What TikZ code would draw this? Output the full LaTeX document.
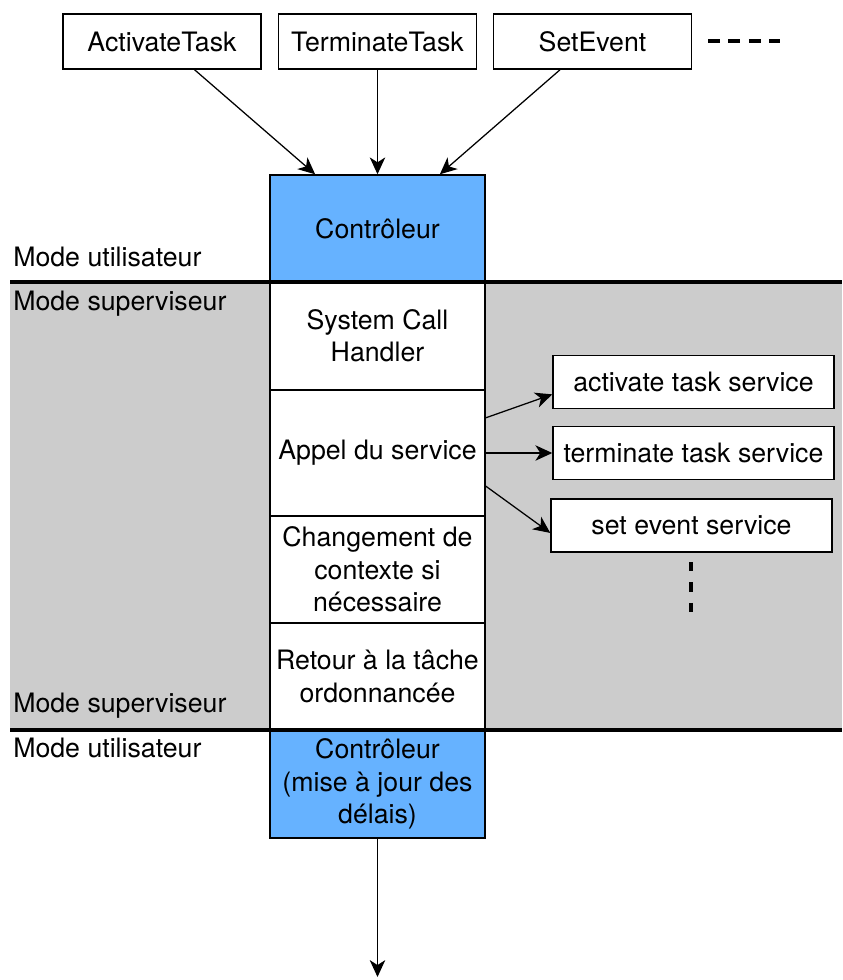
\documentclass[tikz,border=0pt]{standalone}
\usepackage{fontspec}
\setmainfont{TeX Gyre Heros}
\usetikzlibrary{arrows.meta}
\definecolor{ctrlblue}{rgb}{0.4,0.7,1}
\definecolor{supgray}{rgb}{0.8,0.8,0.8}
\tikzset{
  box/.style={draw, line width=1pt, fill=white, inner sep=0pt, align=center},
  ctrlbox/.style={box, fill=ctrlblue},
  colbox/.style={box, minimum width=5.375cm},
  callbox/.style={box, minimum width=4.95cm, minimum height=1.375cm},
  srvbox/.style={box, minimum width=7.025cm, minimum height=1.33cm},
  flow/.style={line width=0.9pt, -{Stealth[length=12pt,width=11pt,inset=3.5pt]}},
  modesep/.style={line width=2.2pt},
  modelabel/.style={anchor=base west, inner sep=0pt},
}

\begin{document}
\begin{tikzpicture}[x=0.025cm, y=-0.025cm, font=\fontsize{19}{23}\selectfont]
\useasboundingbox (0,0) rectangle (842,980);
\fill[supgray] (10,282) rectangle (842,730);
% appels systeme
\node[callbox] (act) at (162,41.5) {ActivateTask};
\node[callbox] (term) at (377.5,41.5) {TerminateTask};
\node[callbox] (setev) at (592.5,41.5) {SetEvent};
\draw[line width=2.8pt, dash pattern=on 8.5pt off 6pt] (708,41) -- (780,41);
% colonne centrale
\node[ctrlbox, minimum width=5.375cm, minimum height=2.675cm] (ctrl) at (377.5,228.5) {Contrôleur};
\node[colbox, minimum height=2.7cm] (sch) at (377.5,336) {System Call\\Handler};
\node[colbox, minimum height=3.15cm] (appel) at (377.5,453) {Appel du service};
\node[colbox, minimum height=2.675cm] (chgt) at (377.5,569.5) {Changement de\\contexte si\\nécessaire};
\node[colbox, minimum height=2.675cm] (retour) at (377.5,676.5) {Retour à la tâche\\ordonnancée};
\node[ctrlbox, minimum width=5.375cm, minimum height=2.7cm] (ctrlb) at (377.5,784) {Contrôleur\\(mise à jour des\\délais)};
\coordinate (fin) at (377.5,977);
% services
\node[srvbox] (actsrv) at (693.5,382) {activate task service};
\node[srvbox] (termsrv) at (693.5,453) {terminate task service};
\node[srvbox] (setsrv) at (691.5,525.5) {set event service};
\draw[line width=2.6pt, dash pattern=on 6.5pt off 8pt] (691,562) -- (691,614);
% modes
\node[modelabel] (mu1) at (13,266) {Mode utilisateur};
\node[modelabel] (ms1) at (13,310) {Mode superviseur};
\node[modelabel] (ms2) at (13,712) {Mode superviseur};
\node[modelabel] (mu2) at (13,757) {Mode utilisateur};
\draw[modesep] (10,282) -- (842,282);
\draw[modesep] (10,730) -- (842,730);
% fleches
\draw[flow] (act) -- (ctrl.139);
\draw[flow] (term) -- (ctrl);
\draw[flow] (setev) -- (ctrl.41);
\draw[flow] (appel.18) -- (actsrv.185);
\draw[flow] (appel.east) -- (termsrv.west);
\draw[flow] (appel.-17) -- (setsrv.183);
\draw[flow] (ctrlb) -- (fin);
\end{tikzpicture}
\end{document}
